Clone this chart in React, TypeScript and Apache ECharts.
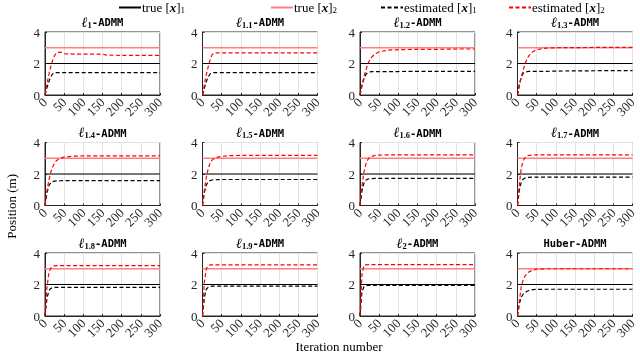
import React, { useEffect, useRef } from 'react';
import * as echarts from 'echarts';

// ---------- data ----------
const iterations = [0, 5, 10, 15, 20, 25, 30, 40, 50, 75, 100, 150, 160, 200, 250, 300];
const xExtent = [0, 300];
const xTicks = [0, 50, 100, 150, 200, 250, 300];
const yTicks = [0, 2, 4];
const trueX1 = 2;
const trueX2 = 3;

// panel subscripts (null = Huber)
const panelSubs: (string | null)[] = ['1', '1.1', '1.2', '1.3', '1.4', '1.5', '1.6', '1.7', '1.8', '1.9', '2', null];

const estX1_L1 = [0, 0.45, 0.85, 1.15, 1.35, 1.42, 1.42, 1.42, 1.42, 1.42, 1.42, 1.42, 1.42, 1.42, 1.42, 1.42];
const estX2_L1 = [0, 0.7, 1.3, 1.8, 2.2, 2.5, 2.68, 2.72, 2.62, 2.6, 2.6, 2.6, 2.53, 2.52, 2.52, 2.52];
const estX1_L11 = [0, 0.45, 0.85, 1.15, 1.35, 1.4, 1.42, 1.42, 1.42, 1.42, 1.42, 1.42, 1.42, 1.42, 1.42, 1.42];
const estX2_L11 = [0, 0.7, 1.3, 1.8, 2.25, 2.55, 2.65, 2.67, 2.67, 2.67, 2.67, 2.67, 2.67, 2.67, 2.67, 2.67];
const estX1_L12 = [0, 0.6, 1.0, 1.3, 1.42, 1.46, 1.48, 1.48, 1.48, 1.49, 1.49, 1.5, 1.5, 1.5, 1.5, 1.5];
const estX2_L12 = [0, 0.6, 1.1, 1.55, 1.95, 2.2, 2.4, 2.62, 2.75, 2.85, 2.88, 2.9, 2.9, 2.9, 2.92, 2.92];
const estX1_L13 = [0, 0.7, 1.15, 1.38, 1.45, 1.48, 1.5, 1.5, 1.5, 1.5, 1.52, 1.53, 1.53, 1.54, 1.55, 1.55];
const estX2_L13 = [0, 0.6, 1.15, 1.6, 2.0, 2.3, 2.5, 2.75, 2.88, 2.98, 3.0, 3.01, 3.01, 3.02, 3.02, 3.02];
const estX1_L14 = [0, 0.8, 1.25, 1.45, 1.52, 1.55, 1.56, 1.57, 1.58, 1.58, 1.58, 1.58, 1.58, 1.58, 1.58, 1.58];
const estX2_L14 = [0, 0.9, 1.6, 2.1, 2.45, 2.7, 2.85, 3.0, 3.07, 3.13, 3.15, 3.15, 3.15, 3.15, 3.15, 3.15];
const estX1_L15 = [0, 0.85, 1.3, 1.5, 1.58, 1.62, 1.63, 1.64, 1.65, 1.65, 1.65, 1.65, 1.65, 1.65, 1.65, 1.65];
const estX2_L15 = [0, 1.0, 1.8, 2.35, 2.7, 2.88, 2.97, 3.07, 3.12, 3.17, 3.18, 3.18, 3.18, 3.18, 3.18, 3.18];
const estX1_L16 = [0, 0.9, 1.4, 1.6, 1.67, 1.7, 1.71, 1.72, 1.72, 1.72, 1.72, 1.72, 1.72, 1.72, 1.72, 1.72];
const estX2_L16 = [0, 1.2, 2.1, 2.6, 2.9, 3.05, 3.12, 3.18, 3.2, 3.22, 3.22, 3.22, 3.22, 3.22, 3.22, 3.22];
const estX1_L17 = [0, 1.0, 1.5, 1.68, 1.75, 1.78, 1.79, 1.8, 1.8, 1.8, 1.8, 1.8, 1.8, 1.8, 1.8, 1.8];
const estX2_L17 = [0, 1.4, 2.4, 2.85, 3.05, 3.15, 3.18, 3.2, 3.22, 3.22, 3.22, 3.22, 3.22, 3.22, 3.22, 3.22];
const estX1_L18 = [0, 1.1, 1.6, 1.75, 1.8, 1.82, 1.82, 1.82, 1.82, 1.82, 1.82, 1.82, 1.82, 1.82, 1.82, 1.82];
const estX2_L18 = [0, 1.8, 2.7, 3.05, 3.15, 3.18, 3.2, 3.2, 3.2, 3.2, 3.2, 3.2, 3.2, 3.2, 3.2, 3.2];
const estX1_L19 = [0, 1.2, 1.7, 1.83, 1.88, 1.9, 1.9, 1.9, 1.9, 1.9, 1.9, 1.9, 1.9, 1.9, 1.9, 1.9];
const estX2_L19 = [0, 2.2, 3.0, 3.2, 3.24, 3.25, 3.25, 3.25, 3.25, 3.25, 3.25, 3.25, 3.25, 3.25, 3.25, 3.25];
const estX1_L2 = [0, 1.5, 1.85, 1.93, 1.95, 1.95, 1.95, 1.95, 1.95, 1.95, 1.95, 1.95, 1.95, 1.95, 1.95, 1.95];
const estX2_L2 = [0, 2.6, 3.2, 3.25, 3.26, 3.26, 3.26, 3.26, 3.26, 3.26, 3.26, 3.26, 3.26, 3.26, 3.26, 3.26];
const estX1_Hub = [0, 0.8, 1.2, 1.4, 1.5, 1.57, 1.62, 1.67, 1.69, 1.7, 1.7, 1.7, 1.7, 1.7, 1.7, 1.7];
const estX2_Hub = [0, 1.0, 1.9, 2.3, 2.55, 2.7, 2.8, 2.92, 2.97, 3.0, 3.0, 3.0, 3.0, 3.0, 3.0, 3.0];

const estX1 = [estX1_L1, estX1_L11, estX1_L12, estX1_L13, estX1_L14, estX1_L15, estX1_L16, estX1_L17, estX1_L18, estX1_L19, estX1_L2, estX1_Hub];
const estX2 = [estX2_L1, estX2_L11, estX2_L12, estX2_L13, estX2_L14, estX2_L15, estX2_L16, estX2_L17, estX2_L18, estX2_L19, estX2_L2, estX2_Hub];

const seriesNames = ['true [x]1', 'true [x]2', 'estimated [x]1', 'estimated [x]2'];

// ---------- styling ----------
const SERIF = "'Liberation Serif', 'DejaVu Serif', serif";
const MONO = "'DejaVu Sans Mono', 'Liberation Mono', monospace";
const AX = '#262626';

const legendRich = {
  n: { fontFamily: SERIF, fontSize: 13, color: '#000', lineHeight: 14 },
  b: { fontFamily: SERIF, fontSize: 13, fontStyle: 'italic', fontWeight: 'bold', color: '#000', lineHeight: 14 },
  s: { fontFamily: SERIF, fontSize: 9, color: '#000', lineHeight: 9, verticalAlign: 'bottom' },
};

function legendLabel(name: string) {
  const m = name.match(/^(.*)\[x\](\d)$/);
  if (!m) return name;
  return `{n|${m[1]}[}{b|x}{n|]}{s|${m[2]}}`;
}

function titleText(sub: string | null) {
  if (sub === null) return '{m|Huber-ADMM}';
  return `{l|ℓ}{s|${sub}}{m|-ADMM}`;
}

const titleRich = {
  l: { fontFamily: SERIF, fontSize: 14, fontStyle: 'italic', color: '#000', lineHeight: 14 },
  s: { fontFamily: SERIF, fontSize: 8.5, color: '#000', lineHeight: 8, verticalAlign: 'bottom' },
  m: { fontFamily: MONO, fontSize: 10.5, fontWeight: 'bold', color: '#000', lineHeight: 14 },
};

export default function App() {
  const ref = useRef<HTMLDivElement>(null);
  useEffect(() => {
    if (!ref.current) return;
    const chart = echarts.init(ref.current, undefined, { renderer: 'svg' });

    const grids: any[] = [];
    const xAxes: any[] = [];
    const yAxes: any[] = [];
    const series: any[] = [];
    const titles: any[] = [];

    panelSubs.forEach((sub, i) => {
      const r = Math.floor(i / 4);
      const c = i % 4;
      const left = 45 + c * 157.5;
      const top = 32 + r * 110.5;
      const width = 115;
      const height = 63;
      grids.push({
        left, top, width, height,
        show: true, borderColor: AX, borderWidth: 1, backgroundColor: 'transparent',
      });
      xAxes.push({
        type: 'value', gridIndex: i, min: xExtent[0], max: xExtent[1], interval: xTicks[1] - xTicks[0],
        axisLine: { show: true, lineStyle: { color: AX, width: 1 } },
        axisTick: { show: true, inside: true, length: 2, lineStyle: { color: AX } },
        axisLabel: { rotate: 45, fontSize: 13, fontFamily: SERIF, color: AX, margin: 5 },
        splitLine: { show: true, lineStyle: { color: '#e3e3e3', width: 1 } },
      });
      yAxes.push({
        type: 'value', gridIndex: i, min: yTicks[0], max: yTicks[yTicks.length - 1], interval: yTicks[1] - yTicks[0],
        axisLine: { show: true, lineStyle: { color: AX, width: 1 } },
        axisTick: { show: true, inside: true, length: 2, lineStyle: { color: AX } },
        axisLabel: { fontSize: 13, fontFamily: SERIF, color: AX, margin: 5 },
        splitLine: { show: true, lineStyle: { color: '#e3e3e3', width: 1 } },
      });
      titles.push({
        text: titleText(sub),
        left: left + width / 2,
        top: top - 17,
        textAlign: 'center',
        textStyle: { rich: titleRich },
        padding: 0,
      });
      const common = { type: 'line', xAxisIndex: i, yAxisIndex: i, symbol: 'none', silent: true };
      series.push({
        ...common, name: seriesNames[0],
        data: xExtent.map((x) => [x, trueX1]),
        lineStyle: { color: '#000000', width: 1 }, itemStyle: { color: '#000000' },
      });
      series.push({
        ...common, name: seriesNames[1],
        data: xExtent.map((x) => [x, trueX2]),
        lineStyle: { color: '#ff8080', width: 1.6 }, itemStyle: { color: '#ff8080' },
      });
      series.push({
        ...common, name: seriesNames[2],
        data: iterations.map((x, k) => [x, estX1[i][k]]),
        lineStyle: { color: '#000000', width: 1.2, type: [4, 2.5] }, itemStyle: { color: '#000000' },
      });
      series.push({
        ...common, name: seriesNames[3],
        data: iterations.map((x, k) => [x, estX2[i][k]]),
        lineStyle: { color: '#ff0000', width: 1.2, type: [4, 2.5] }, itemStyle: { color: '#ff0000' },
      });
    });

    const legendLefts = [118, 270, 380, 508];
    const legends = seriesNames.map((nm, k) => ({
      data: [nm],
      left: legendLefts[k],
      top: 0,
      itemWidth: 22,
      itemHeight: 10,
      itemGap: 0,
      padding: [1, 0, 0, 0],
      formatter: (n: string) => legendLabel(n),
      textStyle: { rich: legendRich, padding: [0, 0, 0, -4] },
      itemStyle: { color: 'transparent', borderWidth: 0, opacity: 0 },
      selectedMode: false,
    }));

    chart.setOption({
      animation: false,
      title: titles,
      legend: legends,
      grid: grids,
      xAxis: xAxes,
      yAxis: yAxes,
      series,
      graphic: [
        {
          type: 'text', left: 5, top: 174, rotation: Math.PI / 2,
          style: { text: 'Position (m)', fontFamily: SERIF, fontSize: 13, fill: '#000', textAlign: 'center', textVerticalAlign: 'middle' },
        },
        {
          type: 'text', x: 339, y: 346,
          style: { text: 'Iteration number', fontFamily: SERIF, fontSize: 13, fill: '#000', textAlign: 'center', textVerticalAlign: 'middle' },
        },
      ],
    });
    return () => chart.dispose();
  }, []);
  return <div ref={ref} style={{ position: 'fixed', left: 0, top: 0, width: 640, height: 353 }} />;
}
